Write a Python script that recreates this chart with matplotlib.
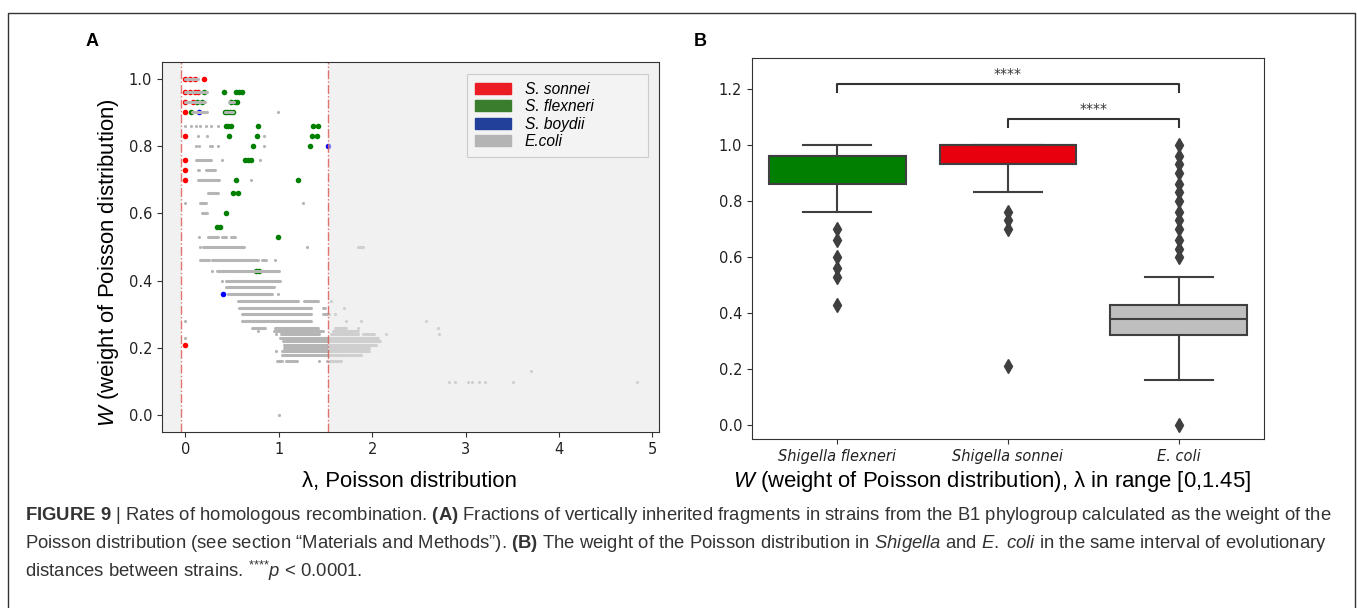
import matplotlib
matplotlib.use("Agg")
import matplotlib.pyplot as plt
import matplotlib.patches as mpatches
import numpy as np

plt.rcParams['font.family'] = ['DejaVu Sans']
plt.rcParams['mathtext.fontset'] = 'custom'
plt.rcParams['mathtext.rm'] = 'Liberation Sans'
plt.rcParams['mathtext.it'] = 'Liberation Sans:italic'
plt.rcParams['mathtext.bf'] = 'Liberation Sans:bold'

# ---------------- panel A data (lambda, W) ----------------
sonnei_lam = [0.00, 0.05, 0.10, 0.20, 0.00, 0.05, 0.10, 0.14, 0.00, 0.08,
              0.00, 0.00, 0.00, 0.00, 0.00, 0.00]
sonnei_w = [1.00, 1.00, 1.00, 1.00, 0.96, 0.96, 0.96, 0.96, 0.93, 0.93,
            0.90, 0.83, 0.76, 0.73, 0.70, 0.21]

flexneri_lam = [0.20, 0.41, 0.54, 0.57, 0.61, 0.12, 0.18, 0.49, 0.53, 0.55,
                0.06, 0.42, 0.45, 0.48, 0.51, 0.44, 0.46, 0.49, 0.78, 1.37,
                1.42, 0.47, 0.77, 1.36, 1.41, 0.72, 1.33, 0.64, 0.67, 0.70,
                0.54, 1.21, 0.51, 0.56, 0.44, 0.34, 0.37, 0.99, 0.76, 0.79]
flexneri_w = [0.96, 0.96, 0.96, 0.96, 0.96, 0.93, 0.93, 0.93, 0.93, 0.93,
              0.90, 0.90, 0.90, 0.90, 0.90, 0.86, 0.86, 0.86, 0.86, 0.86,
              0.86, 0.83, 0.83, 0.83, 0.83, 0.80, 0.80, 0.76, 0.76, 0.76,
              0.70, 0.70, 0.66, 0.66, 0.60, 0.56, 0.56, 0.53, 0.43, 0.43]

boydii_lam = [0.15, 1.53, 0.40]
boydii_w = [0.90, 0.80, 0.36]

# E. coli: dense runs of points (W level, lambda from, lambda to)
ecoli_run_w = [1.00, 0.96, 0.93, 0.93, 0.90, 0.90, 0.90, 0.76, 0.73, 0.73,
               0.70, 0.66, 0.63, 0.60, 0.53, 0.53, 0.53, 0.50, 0.50, 0.46,
               0.46, 0.46, 0.43, 0.40, 0.38, 0.36, 0.34, 0.34, 0.32, 0.32,
               0.30, 0.30, 0.28, 0.26, 0.26, 0.26, 0.26, 0.25, 0.25, 0.24,
               0.24, 0.24, 0.23, 0.22, 0.21, 0.20, 0.19, 0.18, 0.16, 0.16,
               0.16]
ecoli_run_lo = [0.00, 0.00, 0.00, 0.47, 0.07, 0.42, 0.47, 0.11, 0.13, 0.22,
                0.14, 0.24, 0.16, 0.18, 0.24, 0.39, 0.49, 0.19, 1.85, 0.16,
                0.29, 0.82, 0.34, 0.43, 0.43, 0.48, 0.56, 1.27, 0.57, 1.47,
                0.61, 1.47, 0.61, 0.71, 0.96, 1.23, 1.60, 0.95, 1.58, 1.02,
                1.56, 1.90, 1.01, 1.04, 1.06, 1.06, 1.03, 1.03, 0.98, 1.08,
                1.52]
ecoli_run_hi = [0.13, 0.23, 0.21, 0.52, 0.23, 0.45, 0.51, 0.27, 0.15, 0.32,
                0.36, 0.35, 0.22, 0.23, 0.35, 0.44, 0.53, 0.63, 1.90, 0.25,
                0.78, 0.86, 1.00, 1.01, 0.95, 0.93, 1.21, 1.42, 1.34, 1.50,
                1.34, 1.54, 1.34, 0.85, 1.22, 1.42, 1.72, 1.47, 1.85, 1.43,
                1.85, 2.02, 2.06, 2.08, 2.04, 1.97, 1.97, 1.88, 1.03, 1.20,
                1.67]

# E. coli: isolated points
ecoli_lam = [0.99, 0.00, 0.06, 0.11, 0.16, 0.22, 0.27, 0.35, 0.13, 0.23,
             0.84, 0.11, 0.15, 0.26, 0.29, 0.35, 0.84, 0.39, 0.80, 0.70,
             0.00, 1.26, 0.15, 0.16, 1.30, 0.96, 0.29, 0.39, 0.46, 0.99,
             1.56, 1.70, 1.60, 0.00, 1.72, 1.88, 2.58, 1.85, 2.70, 0.78,
             0.97, 2.15, 2.72, 0.00, 0.97, 1.43, 3.70, 2.82, 2.89, 3.03,
             3.07, 3.14, 3.21, 3.51, 4.83, 1.00]
ecoli_w = [0.90, 0.86, 0.86, 0.86, 0.86, 0.86, 0.86, 0.86, 0.83, 0.83,
           0.83, 0.80, 0.80, 0.80, 0.80, 0.80, 0.80, 0.76, 0.76, 0.70,
           0.63, 0.63, 0.53, 0.50, 0.50, 0.46, 0.43, 0.40, 0.36, 0.36,
           0.34, 0.32, 0.30, 0.28, 0.28, 0.28, 0.28, 0.26, 0.26, 0.25,
           0.24, 0.24, 0.24, 0.23, 0.19, 0.16, 0.13, 0.10, 0.10, 0.10,
           0.10, 0.10, 0.10, 0.10, 0.10, 0.00]

lam_window = (-0.05, 1.53)
legend_names = ['S. sonnei', 'S. flexneri', 'S. boydii', 'E.coli']
legend_colors = ['#ec1c24', '#3a7d2c', '#22409a', '#b4b4b4']

# ---------------- panel B data (box statistics) ----------------
groups = ['Shigella flexneri', 'Shigella sonnei', 'E. coli']
box_colors = ['#007f00', '#e8000e', '#bfbfbf']
q1 = [0.86, 0.93, 0.32]
med = [0.96, 1.00, 0.38]
q3 = [0.96, 1.00, 0.43]
whis_lo = [0.76, 0.83, 0.16]
whis_hi = [1.00, 1.00, 0.53]
fliers = [
    [0.70, 0.66, 0.60, 0.56, 0.53, 0.43],
    [0.76, 0.73, 0.70, 0.21],
    [0.60, 0.63, 0.66, 0.70, 0.73, 0.76, 0.80, 0.83, 0.86, 0.90, 0.93, 0.96, 1.00, 0.00],
]
sig_pairs = [(0, 2), (1, 2)]
sig_levels = [1.19, 1.065]
sig_text = ['****', '****']

# ---------------- figure ----------------
fig = plt.figure(figsize=(13.57, 6.08), dpi=100)
W, H = 1357, 608

def ax_rect(l, t, r, b):
    return [l / W, 1 - b / H, (r - l) / W, (b - t) / H]

dark = '#333333'
label_fs = 15.9

# panel A
axA = fig.add_axes(ax_rect(162, 62, 659, 432))
axA.set_facecolor('white')
axA.scatter(sonnei_lam, sonnei_w, s=16, color='red', zorder=2, linewidths=0)
axA.scatter(flexneri_lam, flexneri_w, s=16, color='green', zorder=2, linewidths=0)
axA.scatter(boydii_lam, boydii_w, s=16, color='blue', zorder=2, linewidths=0)
axA.hlines(ecoli_run_w, ecoli_run_lo, ecoli_run_hi, color='#b5b5b5', lw=2.2,
           capstyle='round', zorder=3)
axA.scatter(ecoli_lam, ecoli_w, s=5, color='#b5b5b5', zorder=3, linewidths=0)

axA.set_xlim(-0.25, 5.07)
axA.set_ylim(-0.05, 1.05)
# shaded area outside the lambda window
axA.axvspan(-0.25, lam_window[0], color='#e6e6e6', alpha=0.55, lw=0, zorder=4)
axA.axvspan(lam_window[1], 5.07, color='#e6e6e6', alpha=0.55, lw=0, zorder=4)
for xv in lam_window:
    axA.axvline(xv, color='#d9534f', lw=1, ls='-.', alpha=0.8, zorder=5)

for side in ['top', 'left', 'right', 'bottom']:
    axA.spines[side].set_color(dark)
for side in ['top', 'left', 'right']:
    axA.spines[side].set_zorder(6)

axA.set_xticks([0, 1, 2, 3, 4, 5])
axA.set_yticks([0.0, 0.2, 0.4, 0.6, 0.8, 1.0])
axA.set_yticklabels(['0.0', '0.2', '0.4', '0.6', '0.8', '1.0'])
axA.tick_params(labelsize=10.5, length=3.5, color=dark, labelcolor='#222222')

handles = [mpatches.Patch(color=c, label=n) for n, c in zip(legend_names, legend_colors)]
leg = axA.legend(handles=handles, loc='upper left',
                 bbox_to_anchor=(0.614, 0.0, 0.364, 0.968), mode='expand',
                 borderaxespad=0,
                 prop={'family': 'Liberation Sans', 'style': 'italic', 'size': 11.2},
                 frameon=True, fancybox=False, framealpha=1, facecolor='#f3f3f3',
                 edgecolor='#cccccc', handlelength=2.3, handleheight=0.7,
                 labelspacing=0.16, handletextpad=0.9, borderpad=0.5)
leg.get_frame().set_linewidth(0.8)

axA.set_xlabel('λ, Poisson distribution', family='Liberation Sans', fontsize=label_fs)
axA.set_ylabel('$W$ (weight of Poisson distribution)', family='Liberation Sans',
               fontsize=label_fs)
axA.xaxis.set_label_coords(0.497, -0.105)
axA.yaxis.set_label_coords(-0.082, 0.457)

# panel B
axB = fig.add_axes(ax_rect(752, 58, 1264, 439))
stats = []
for i in range(len(groups)):
    stats.append(dict(q1=q1[i], med=med[i], q3=q3[i], whislo=whis_lo[i],
                      whishi=whis_hi[i], fliers=fliers[i], label=groups[i]))
bp = axB.bxp(stats, positions=[0, 1, 2], widths=0.8, patch_artist=True,
             boxprops=dict(edgecolor='#3f3f3f', lw=1.5),
             whiskerprops=dict(color='#3f3f3f', lw=1.5),
             capprops=dict(color='#3f3f3f', lw=1.5),
             medianprops=dict(color='#3f3f3f', lw=1.5),
             flierprops=dict(marker='d', markerfacecolor='#3f3f3f',
                             markeredgecolor='#3f3f3f', markersize=7))
for patch, c in zip(bp['boxes'], box_colors):
    patch.set_facecolor(c)

for (a, b), y, t in zip(sig_pairs, sig_levels, sig_text):
    h = 0.027
    axB.plot([a, a, b, b], [y, y + h, y + h, y], color='#333333', lw=1.5)
    axB.text((a + b) / 2, y + h + 0.01, t, ha='center', va='bottom', fontsize=10,
             color='#333333')

axB.set_xlim(-0.5, 2.5)
axB.set_ylim(-0.05, 1.31)
axB.set_yticks([0.0, 0.2, 0.4, 0.6, 0.8, 1.0, 1.2])
axB.set_yticklabels(['0.0', '0.2', '0.4', '0.6', '0.8', '1.0', '1.2'])
axB.set_xticks([0, 1, 2])
axB.set_xticklabels(groups, fontstyle='italic')
axB.tick_params(labelsize=10.5, length=3.5, color=dark, labelcolor='#222222')
for side in axB.spines:
    axB.spines[side].set_color(dark)
axB.set_xlabel('$W$ (weight of Poisson distribution), λ in range [0,1.45]',
               family='Liberation Sans', fontsize=label_fs)
axB.xaxis.set_label_coords(0.469, -0.08)

# panel letters
fig.text(92 / W, 1 - 42 / H, 'A', family='Liberation Sans', weight='bold',
         fontsize=13, ha='center', va='center')
fig.text(700 / W, 1 - 42 / H, 'B', family='Liberation Sans', weight='bold',
         fontsize=13, ha='center', va='center')

# caption
cap = [
    r'$\mathbf{FIGURE\ 9}$ | Rates of homologous recombination. $\mathbf{(A)}$ Fractions of vertically '
    r'inherited fragments in strains from the B1 phylogroup calculated as the weight of the',
    r'Poisson distribution (see section “Materials and Methods”). $\mathbf{(B)}$ The weight of the '
    r'Poisson distribution in $\mathit{Shigella}$ and $\mathit{E.\;coli}$ in the same interval of evolutionary',
    r'distances between strains. $^{{*}{*}{*}{*}}\mathit{p}$ < 0.0001.',
]
for line, yc in zip(cap, [516, 544, 571]):
    fig.text(25 / W, 1 - yc / H, line, family='Liberation Sans', fontsize=13.3,
             color='#333333', ha='left', va='center')

# outer frame
fig.patches.append(mpatches.Rectangle((8 / W, -0.02), (1355 - 8) / W, 1.02 - 12.5 / H,
                                      transform=fig.transFigure, fill=False,
                                      edgecolor=dark, lw=1))

fig.savefig('out.png', dpi=100)
